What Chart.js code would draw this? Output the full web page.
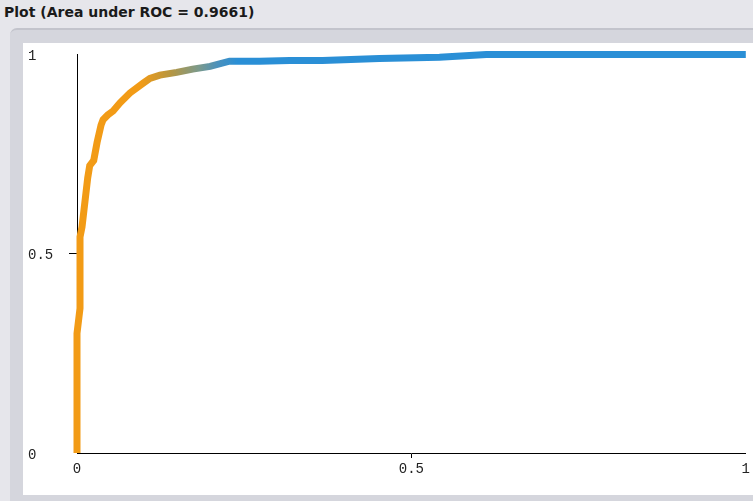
<!DOCTYPE html>
<html>
<head>
<meta charset="utf-8">
<script src="https://cdn.jsdelivr.net/npm/chart.js@4"></script>
<style>
  html, body { margin: 0; padding: 0; }
  body { width: 753px; height: 501px; background: #e6e6eb; position: relative; overflow: hidden; }
  #title { position: absolute; left: 4px; top: 4px; font: bold 14px "DejaVu Sans", sans-serif; color: #1a1a1a; }
  #panel { position: absolute; left: 10px; top: 28px; width: 760px; height: 480px; background: #d5d6dd;
           border-top: 2px solid #c3c4cc; border-radius: 7px 0 0 0; }
  #plot { position: absolute; left: 23px; top: 43px; width: 730px; height: 452px; background: #fff; }
</style>
</head>
<body>
<div id="title">Plot (Area under ROC = 0.9661)</div>
<div id="panel"></div>
<div id="plot"><canvas id="roc_chart"></canvas></div>
<script>
// ROC curve points (false positive rate / true positive rate)
const fpr = [0, 0, 0.0045, 0.0045, 0.0075, 0.016, 0.019, 0.025, 0.030, 0.036, 0.039, 0.046, 0.054,
             0.064, 0.079, 0.099, 0.109, 0.124, 0.149, 0.173, 0.199, 0.228, 0.273, 0.318, 0.367,
             0.452, 0.542, 0.612, 1.0];
const tpr = [0, 0.30, 0.363, 0.542, 0.567, 0.69, 0.721, 0.734, 0.779, 0.823, 0.836, 0.848, 0.858,
             0.878, 0.903, 0.928, 0.940, 0.948, 0.955, 0.963, 0.970, 0.983, 0.983, 0.985, 0.985,
             0.990, 0.993, 1.0, 1.0];
const xTicks = [0, 0.5, 1];
const yTicks = [0, 0.5, 1];

(function roc_chart()
{
    const tickFont = { family: 'Liberation Mono', size: 14 };
    const canvas = document.getElementById('roc_chart');
    canvas.width = 730;
    canvas.height = 452;

    const lineColor = function(ctx) {
        const chart = ctx.chart;
        if (!chart.chartArea) return '#f29b16';
        const x = chart.scales.x;
        const g = chart.ctx.createLinearGradient(x.getPixelForValue(0.095), 0, x.getPixelForValue(0.24), 0);
        g.addColorStop(0, '#f29b16');
        g.addColorStop(0.3, '#b8963f');
        g.addColorStop(0.6, '#7b9a8c');
        g.addColorStop(0.8, '#4a91bd');
        g.addColorStop(1, '#2a8fd6');
        return g;
    };
    // only the middle tick gets a tick mark
    const tickColor = c => (c.tick && c.tick.value === 0.5) ? '#000' : 'rgba(0,0,0,0)';

    const myChart = new Chart(canvas, {
        type: 'line',
        data: {
            datasets: [{
                data: fpr.map((v, i) => ({ x: v, y: tpr[i] })),
                borderColor: lineColor,
                borderWidth: 7,
                pointRadius: 0,
                tension: 0,
                fill: false,
                clip: false
            }]
        },
        options: {
            responsive: false,
            animation: false,
            layout: { padding: { left: 5, right: 6, top: 8, bottom: 0 } },
            plugins: { legend: { display: false }, tooltip: { enabled: false } },
            scales: {
                x: {
                    type: 'linear',
                    min: 0,
                    max: 1,
                    afterBuildTicks: s => { s.ticks = xTicks.map(v => ({ value: v })); },
                    afterFit: s => { s.height = 42; },
                    grid: { display: true, drawOnChartArea: false, drawTicks: true, tickLength: 5, color: tickColor },
                    border: { display: true, color: '#000', width: 1 },
                    ticks: { font: tickFont, color: '#222', padding: 3, maxRotation: 0, callback: v => String(v) }
                },
                y: {
                    min: 0,
                    max: 1,
                    afterBuildTicks: s => { s.ticks = yTicks.map(v => ({ value: v })); },
                    afterFit: s => { s.width = 49; },
                    grid: { display: true, drawOnChartArea: false, drawTicks: true, tickLength: 8, color: tickColor },
                    border: { display: true, color: '#000', width: 1 },
                    ticks: { font: tickFont, color: '#222', crossAlign: 'far', labelOffset: 2, callback: v => String(v) }
                }
            }
        }
    });
})();
</script>
</body>
</html>
